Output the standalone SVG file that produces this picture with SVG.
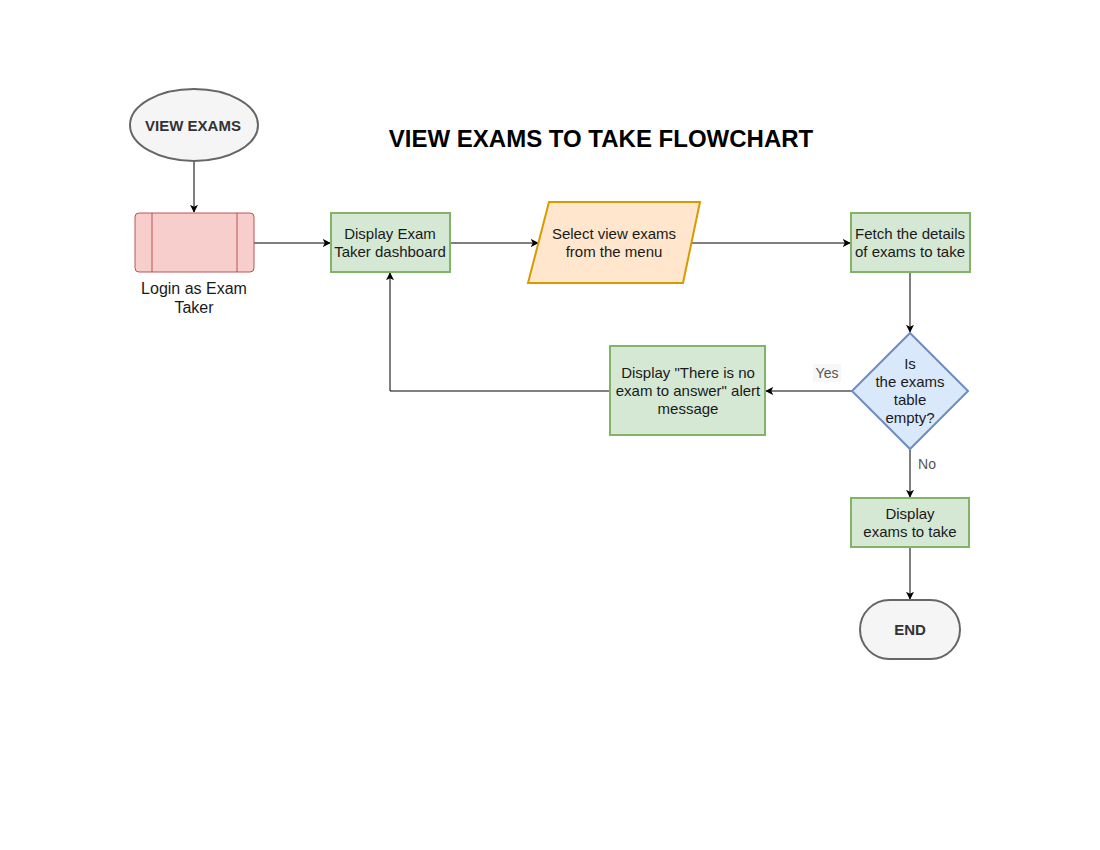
<svg xmlns="http://www.w3.org/2000/svg" width="1100" height="850" viewBox="0 0 1100 850">
<style>
.t{font-family:"Liberation Sans",Arial,sans-serif;font-size:15px;fill:#1a1a1a;text-anchor:middle}
.b{font-weight:bold;fill:#333}
.green{fill:#d5e8d4;stroke:#82b366;stroke-width:2}
.edge{fill:none;stroke:#000;stroke-width:1}
.lbl{font-family:"Liberation Sans",Arial,sans-serif;font-size:14px;fill:#555;text-anchor:middle}
</style>
<defs>
<marker id="arr" viewBox="0 0 10 10" refX="9" refY="5" markerWidth="8" markerHeight="8" markerUnits="userSpaceOnUse" orient="auto">
<path d="M0,0 L10,5 L0,10 L2.5,5 Z" fill="#000"/>
</marker>
</defs>
<rect width="1100" height="850" fill="#fff"/>
<text x="601" y="147" style="font-family:'Liberation Sans',Arial,sans-serif;font-size:24px;font-weight:bold;text-anchor:middle;fill:#000">VIEW EXAMS TO TAKE FLOWCHART</text>
<g id="connectors">
<path class="edge" d="M194,161 L194,212" marker-end="url(#arr)"/>
<path class="edge" d="M254,243 L330,243" marker-end="url(#arr)"/>
<path class="edge" d="M450,243 L538,243" marker-end="url(#arr)"/>
<path class="edge" d="M691,243 L850,243" marker-end="url(#arr)"/>
<path class="edge" d="M910,272 L910,332" marker-end="url(#arr)"/>
<path class="edge" d="M852,391 L766,391" marker-end="url(#arr)"/>
<path class="edge" d="M610,391 L390,391 L390,273" marker-end="url(#arr)"/>
<path class="edge" d="M910,449 L910,497" marker-end="url(#arr)"/>
<path class="edge" d="M910,547 L910,599" marker-end="url(#arr)"/>
<rect x="813" y="364" width="28" height="18" fill="#f7f7f7"/>
<text class="lbl" x="827" y="378">Yes</text>
<text class="lbl" x="927" y="469">No</text>
</g>
<g id="start">
<ellipse cx="194" cy="125" rx="64" ry="36" fill="#f5f5f5" stroke="#666" stroke-width="2"/>
<text class="t b" x="193" y="131">VIEW EXAMS</text>
</g>
<g id="login">
<rect x="135" y="213" width="119" height="59" rx="4" fill="#f8cecc" stroke="#b85450" stroke-width="1"/>
<line x1="152" y1="213" x2="152" y2="272" stroke="#b85450"/>
<line x1="237" y1="213" x2="237" y2="272" stroke="#b85450"/>
<text class="t" x="194" y="294" style="font-size:16px">Login as Exam</text>
<text class="t" x="194" y="313" style="font-size:16px">Taker</text>
</g>
<g id="dashboard">
<rect class="green" x="331" y="213" width="119" height="59"/>
<text class="t" x="390" y="239">Display Exam</text>
<text class="t" x="390" y="257">Taker dashboard</text>
</g>
<g id="select">
<polygon points="549,202 700,202 683,283 528,283" fill="#ffe6cc" stroke="#d79b00" stroke-width="2"/>
<text class="t" x="614" y="239">Select view exams</text>
<text class="t" x="614" y="257">from the menu</text>
</g>
<g id="fetch">
<rect class="green" x="851" y="213" width="119" height="59"/>
<text class="t" x="910" y="239">Fetch the details</text>
<text class="t" x="910" y="257">of exams to take</text>
</g>
<g id="decision">
<polygon points="910,333 968,391 910,449 852,391" fill="#dae8fc" stroke="#6c8ebf" stroke-width="2"/>
<text class="t" x="910" y="369">Is</text>
<text class="t" x="910" y="387">the exams</text>
<text class="t" x="910" y="405">table</text>
<text class="t" x="910" y="423">empty?</text>
</g>
<g id="alert">
<rect class="green" x="610" y="346" width="155" height="89"/>
<text class="t" x="688" y="378">Display "There is no</text>
<text class="t" x="688" y="396">exam to answer" alert</text>
<text class="t" x="688" y="414">message</text>
</g>
<g id="display">
<rect class="green" x="851" y="498" width="118" height="49"/>
<text class="t" x="910" y="519">Display</text>
<text class="t" x="910" y="537">exams to take</text>
</g>
<g id="end">
<rect x="860" y="600" width="100" height="59" rx="29.5" fill="#f5f5f5" stroke="#666" stroke-width="2"/>
<text class="t b" x="910" y="635">END</text>
</g>
</svg>
